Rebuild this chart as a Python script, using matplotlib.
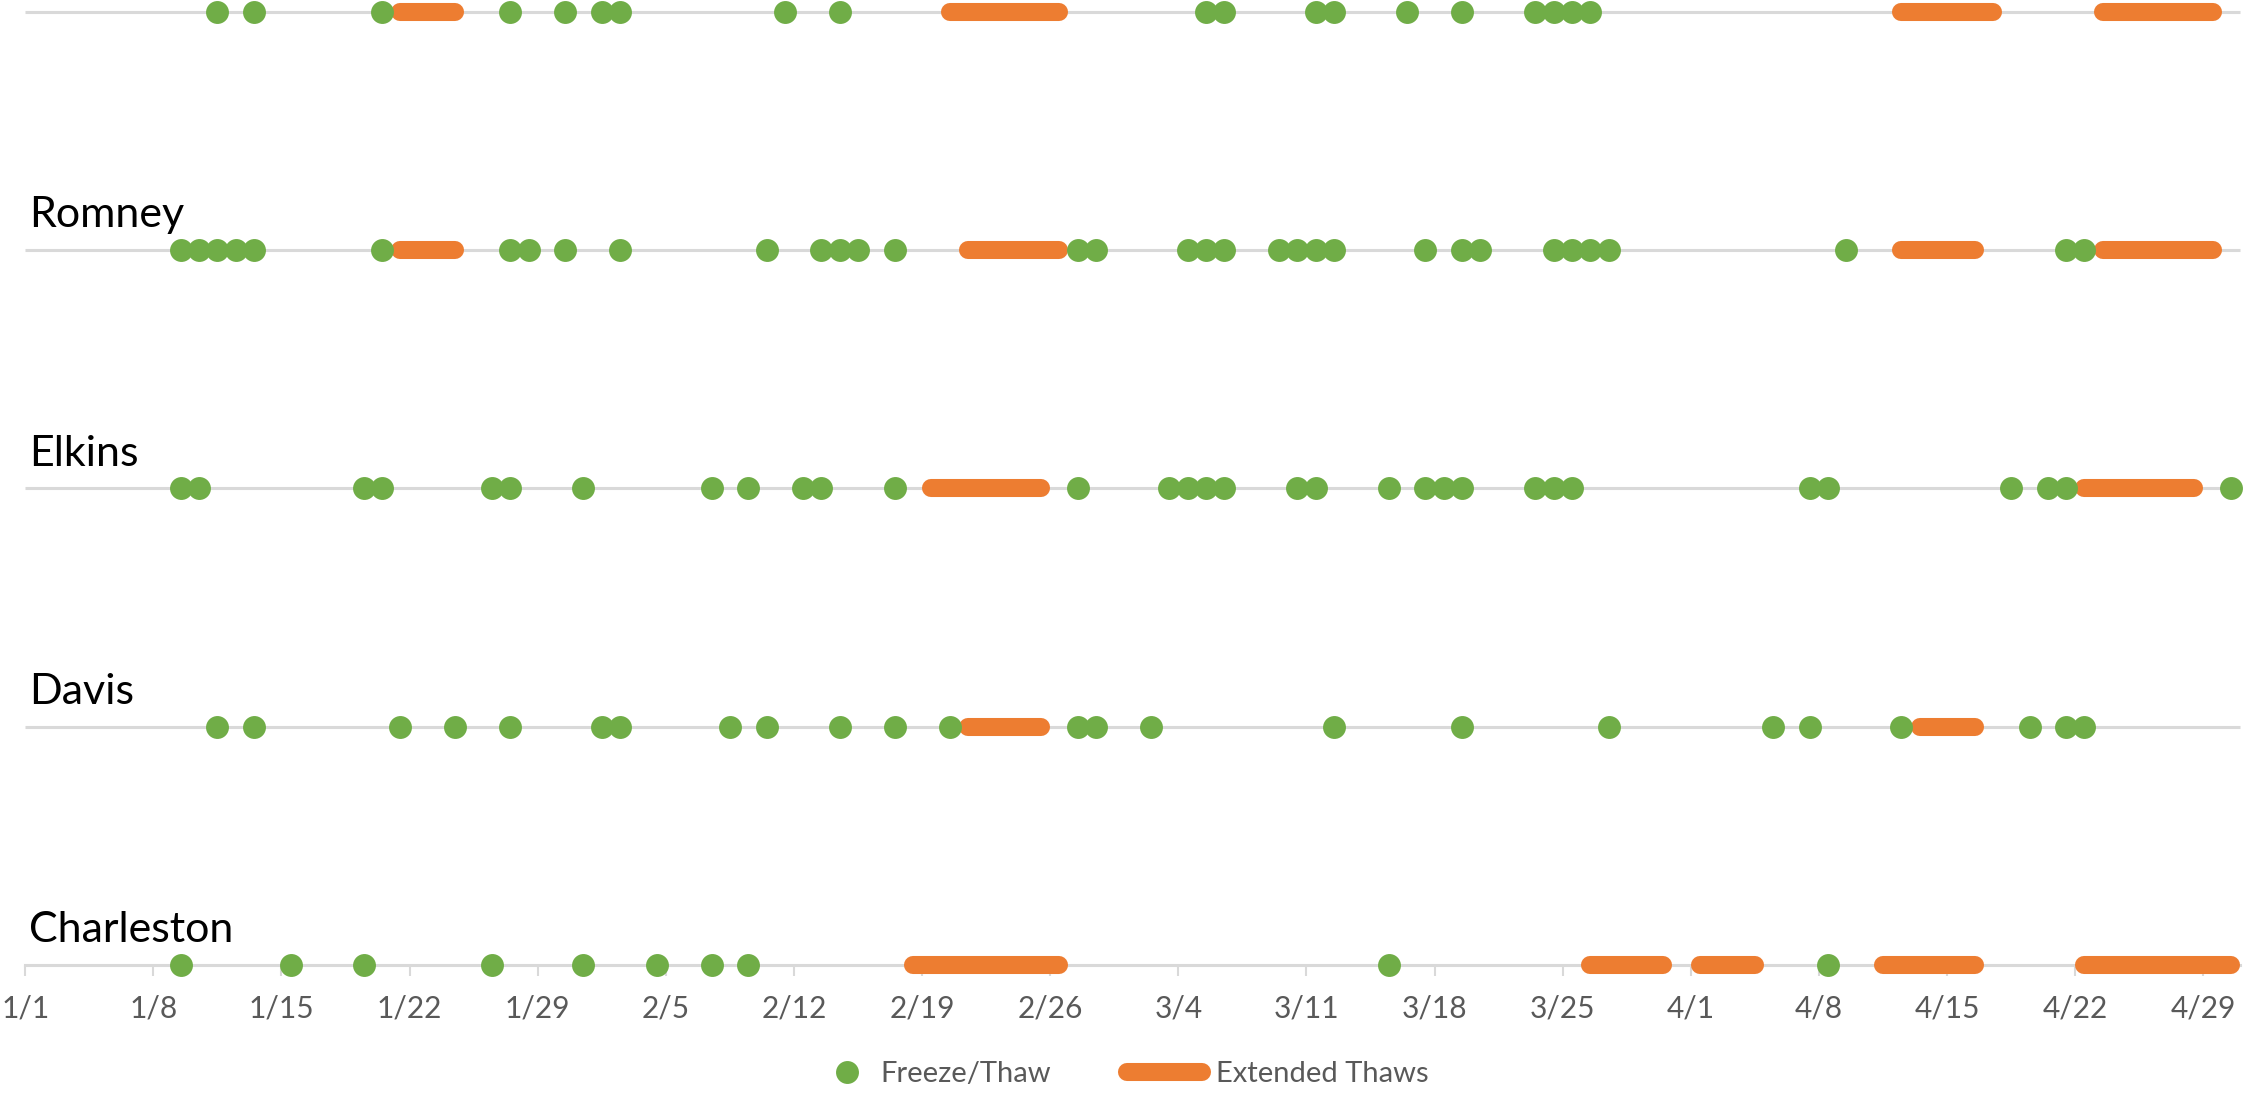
import numpy as np
import pandas as pd
import matplotlib
matplotlib.use('Agg')
import matplotlib.pyplot as plt
from matplotlib.lines import Line2D
from matplotlib.legend_handler import HandlerLine2D

plt.rcParams['font.family'] = ['Lato', 'DejaVu Sans']

# ── data: freeze/thaw days and extended-thaw spans (leap year) ─────────────
YEAR = 2020
STATIONS = ['', 'Romney', 'Elkins', 'Davis', 'Charleston']   # top row label is cut off

FT_TOP = ['1/11', '1/13', '1/20', '1/27', '1/30', '2/1', '2/2', '2/11', '2/14',
          '3/5', '3/6', '3/11', '3/12', '3/16', '3/19', '3/23', '3/24', '3/25', '3/26']
FT_ROMNEY = ['1/9', '1/10', '1/11', '1/12', '1/13', '1/20', '1/27', '1/28', '1/30',
             '2/2', '2/10', '2/13', '2/14', '2/15', '2/17', '2/27', '2/28', '3/4',
             '3/5', '3/6', '3/9', '3/10', '3/11', '3/12', '3/17', '3/19', '3/20',
             '3/24', '3/25', '3/26', '3/27', '4/9', '4/21', '4/22']
FT_ELKINS = ['1/9', '1/10', '1/19', '1/20', '1/26', '1/27', '1/31', '2/7', '2/9',
             '2/12', '2/13', '2/17', '2/27', '3/3', '3/4', '3/5', '3/6', '3/10',
             '3/11', '3/15', '3/17', '3/18', '3/19', '3/23', '3/24', '3/25', '4/7',
             '4/8', '4/18', '4/20', '4/21', '4/30']
FT_DAVIS = ['1/11', '1/13', '1/21', '1/24', '1/27', '2/1', '2/2', '2/8', '2/10',
            '2/14', '2/17', '2/20', '2/27', '2/28', '3/2', '3/12', '3/19', '3/27',
            '4/5', '4/7', '4/12', '4/19', '4/21', '4/22']
FT_CHARLESTON = ['1/9', '1/15', '1/19', '1/26', '1/31', '2/4', '2/7', '2/9',
                 '3/15', '4/8']

THAW_TOP = [('1/21', '1/24'), ('2/20', '2/26'), ('4/12', '4/17'), ('4/23', '4/29')]
THAW_ROMNEY = [('1/21', '1/24'), ('2/21', '2/26'), ('4/12', '4/16'), ('4/23', '4/29')]
THAW_ELKINS = [('2/19', '2/25'), ('4/22', '4/28')]
THAW_DAVIS = [('2/21', '2/25'), ('4/13', '4/16')]
THAW_CHARLESTON = [('2/18', '2/26'), ('3/26', '3/30'), ('4/1', '4/4'),
                   ('4/11', '4/16'), ('4/22', '4/30')]

FREEZE_THAW = [FT_TOP, FT_ROMNEY, FT_ELKINS, FT_DAVIS, FT_CHARLESTON]
THAWS = [THAW_TOP, THAW_ROMNEY, THAW_ELKINS, THAW_DAVIS, THAW_CHARLESTON]

TICK_LABELS = ['1/1', '1/8', '1/15', '1/22', '1/29', '2/5', '2/12', '2/19', '2/26',
               '3/4', '3/11', '3/18', '3/25', '4/1', '4/8', '4/15', '4/22', '4/29']

GREEN = '#70ad47'
ORANGE = '#ed7d31'
GRID = '#d9d9d9'
TXT = '#595959'

JAN1 = pd.Timestamp(f'{YEAR}-01-01')


def day(md):
    """Day offset from 1/1, centred in the day (Excel 'between tick marks')."""
    m, d = md.split('/')
    return (pd.Timestamp(year=YEAR, month=int(m), day=int(d)) - JAN1).days + 0.5


class _RightMarker(HandlerLine2D):
    """Legend marker pushed towards the right end of the handle box."""
    def get_xdata(self, legend, xdescent, ydescent, width, height, fontsize):
        t = width - xdescent - 0.7 * fontsize
        return np.array([t - 1.0, t + 1.0]), np.array([t])


X_MAX = day('4/30') + 0.5

fig = plt.figure(figsize=(22.6, 11.04), dpi=100)
ax = fig.add_axes([0.01115, 0.0611, 0.9800, 0.9392])
ax.set_xlim(0, X_MAX)
ax.set_ylim(-0.3, 4.05)

n = len(STATIONS)
for i, (name, ft, thaws) in enumerate(zip(STATIONS, FREEZE_THAW, THAWS)):
    y = n - 1 - i
    if i < n - 1:
        ax.plot([0, X_MAX], [y, y], color=GRID, lw=2.2, zorder=1,
                solid_capstyle='butt', clip_on=False)
    for s, e in thaws:
        xs = np.arange(day(s), day(e) + 0.01, 1.0)
        ax.plot(xs, np.full_like(xs, y), color=ORANGE, lw=13,
                solid_capstyle='round', zorder=2, clip_on=False)
    xs = [day(d) for d in ft]
    ax.plot(xs, [y] * len(xs), 'o', color=GREEN, ms=16.5, mew=0,
            zorder=3, clip_on=False)
    if name:
        ax.text(0.2, y + 0.095, name, fontsize=31, color='black',
                va='baseline', ha='left')

# axis only on the bottom row
for side in ['top', 'right', 'left']:
    ax.spines[side].set_visible(False)
ax.spines['bottom'].set_position(('data', 0))
ax.spines['bottom'].set_color(GRID)
ax.spines['bottom'].set_linewidth(2.2)
ax.spines['bottom'].set_zorder(1)
ax.set_yticks([])
ax.set_xticks(np.arange(len(TICK_LABELS)) * 7)
ax.set_xticklabels(TICK_LABELS)
ax.tick_params(axis='x', direction='out', length=8, width=1.5, color=GRID,
               labelsize=21.5, labelcolor=TXT, pad=13)

ft_handle = Line2D([], [], marker='o', ls='none', color=GREEN, ms=16.5, mew=0,
                   label='Freeze/Thaw')
thaw_handle = Line2D([], [], color=ORANGE, lw=13, solid_capstyle='round',
                     label='Extended Thaws')
leg = fig.legend(handles=[ft_handle, thaw_handle], loc='center',
                 bbox_to_anchor=(0.491, 0.027), ncol=2, frameon=False,
                 fontsize=21, handlelength=2.6, handletextpad=0.45,
                 columnspacing=2.6,
                 handler_map={ft_handle: _RightMarker(numpoints=1)})
for t in leg.get_texts():
    t.set_color(TXT)

fig.savefig('out.png', dpi=100)
